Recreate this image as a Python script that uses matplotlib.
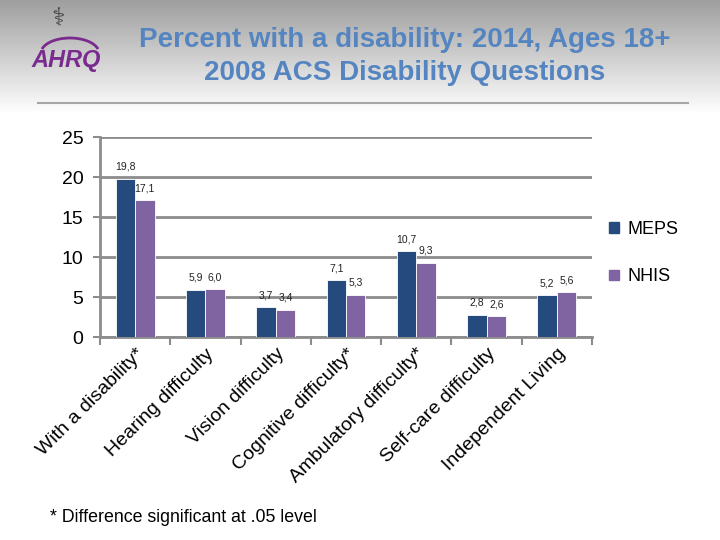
import numpy as np
import matplotlib
matplotlib.use('Agg')
import matplotlib.pyplot as plt
from matplotlib.patches import Patch, Arc

plt.rcParams['font.family'] = ['Liberation Sans', 'DejaVu Sans']

# データ
categories = ['With a disability*', 'Hearing difficulty', 'Vision difficulty',
              'Cognitive difficulty*', 'Ambulatory difficulty*',
              'Self-care difficulty', 'Independent Living']
meps = [19.8, 5.9, 3.7, 7.1, 10.7, 2.8, 5.2]
nhis = [17.1, 6.0, 3.4, 5.3, 9.3, 2.6, 5.6]
series_names = ['MEPS', 'NHIS']
yticks = [0, 5, 10, 15, 20, 25]

C_MEPS = '#254A7E'
C_NHIS = '#8064A2'
C_GRID = '#8C8C8C'

fig = plt.figure(figsize=(7.2, 5.4), dpi=100)

# ヘッダーのグラデーション背景
bg = fig.add_axes([0, 0, 1, 1], zorder=-10)
grad = np.ones((540, 2))
top = np.linspace(0.62, 1.0, 115)
grad[:115, :] = top[:, None]
bg.imshow(grad, cmap='gray', vmin=0, vmax=1, aspect='auto', extent=[0, 720, 540, 0])
bg.plot([38, 688], [103, 103], color='#A6A6A6', lw=1.5)
bg.set_xlim(0, 720)
bg.set_ylim(540, 0)
bg.axis('off')

# ロゴ (AHRQ) - y軸が反転しているので角度も反転
bg.text(66, 61, 'AHRQ', color='#7A2B8E', fontsize=17, fontweight='bold',
        fontstyle='italic', ha='center', va='center')
bg.add_patch(Arc((70, 53), 58, 30, theta1=188, theta2=352, color='#7A2B8E', lw=2))
bg.text(58, 18, '\u2695', color='#444444', fontsize=18, ha='center', va='center',
        family=['DejaVu Sans'])

# タイトル
fig.text(405 / 720, 1 - 40 / 540, 'Percent with a disability: 2014, Ages 18+',
         color='#5585C0', fontsize=20, fontweight='bold', ha='center', va='center')
fig.text(405 / 720, 1 - 73 / 540, '2008 ACS Disability Questions',
         color='#5585C0', fontsize=20, fontweight='bold', ha='center', va='center')

ax = fig.add_axes([100 / 720, 1 - 337 / 540, 492 / 720, 200 / 540])
ax.patch.set_alpha(0)

x = np.arange(len(categories))
w = 0.277
b1 = ax.bar(x - w / 2, meps, w, color=C_MEPS, edgecolor='white', linewidth=0.6, zorder=3)
b2 = ax.bar(x + w / 2, nhis, w, color=C_NHIS, edgecolor='white', linewidth=0.6, zorder=3)

for bars, vals in [(b1, meps), (b2, nhis)]:
    for r, v in zip(bars, vals):
        ax.annotate(f'{v:.1f}'.replace('.', ','), (r.get_x() + r.get_width() / 2, v),
                    xytext=(0, 5), textcoords='offset points',
                    ha='center', va='bottom', fontsize=7.5, color='#222222')

ax.set_xlim(-0.5, len(categories) - 0.5)
ax.set_ylim(0, 25)
ax.set_yticks(yticks)
ax.yaxis.grid(True, color=C_GRID, lw=2, zorder=0)
ax.tick_params(axis='y', length=5, width=1.5, color=C_GRID, labelsize=14, pad=7)
ax.set_xticks(np.arange(len(categories) + 1) - 0.5, minor=False)
ax.set_xticklabels([])
ax.set_xticks(x, minor=True)
ax.set_xticklabels(categories, minor=True, rotation=45, ha='right', va='top',
                   rotation_mode='anchor', fontsize=14)
ax.tick_params(axis='x', which='major', length=6, width=1.5, color=C_GRID)
ax.tick_params(axis='x', which='minor', length=0, pad=6)
for s in ['top', 'right']:
    ax.spines[s].set_visible(False)
for s in ['left', 'bottom']:
    ax.spines[s].set_color(C_GRID)
    ax.spines[s].set_linewidth(2)

handles = [Patch(color=C_MEPS), Patch(color=C_NHIS)]
fig.legend(handles, series_names, loc='center left',
           bbox_to_anchor=(593 / 720, 1 - 253 / 540), frameon=False,
           fontsize=13, handlelength=0.55, handleheight=0.55, handletextpad=0.45,
           labelspacing=1.7)

fig.text(50 / 720, 1 - 517 / 540, '* Difference significant at .05 level',
         fontsize=12.8, ha='left', va='center')

fig.savefig('out.png', dpi=100)
